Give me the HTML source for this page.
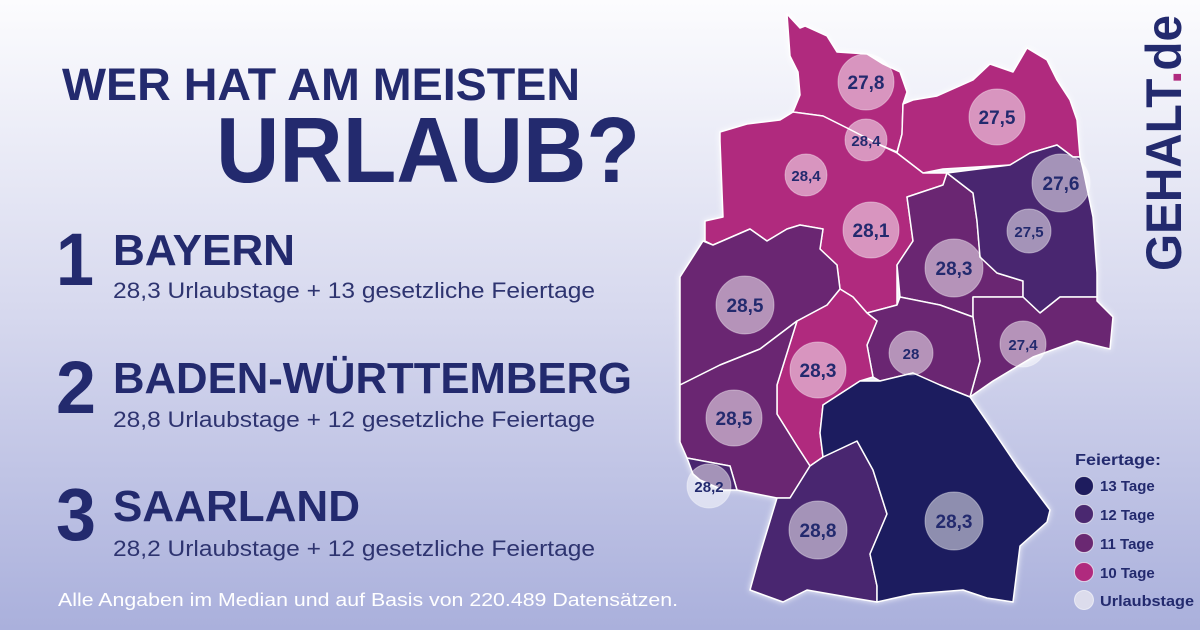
<!DOCTYPE html>
<html><head><meta charset="utf-8"><style>
html,body{margin:0;padding:0;width:1200px;height:630px;overflow:hidden}
svg{display:block}
text{font-family:"Liberation Sans",sans-serif}
</style></head><body>
<svg width="1200" height="630" viewBox="0 0 1200 630" xmlns="http://www.w3.org/2000/svg">
<defs>
<linearGradient id="bg" x1="0" y1="0" x2="0" y2="1">
<stop offset="0" stop-color="#fcfcfe"/><stop offset="0.5" stop-color="#d6d8ee"/><stop offset="1" stop-color="#aab0dc"/>
</linearGradient>
<filter id="sh" x="-10%" y="-10%" width="120%" height="120%"><feDropShadow dx="0" dy="0" stdDeviation="3" flood-color="#ffffff" flood-opacity="0.8"/></filter>
</defs>
<rect width="1200" height="630" fill="url(#bg)"/>

<g fill="#232a6e" font-weight="bold">
<text x="62" y="100" font-size="45" textLength="518" lengthAdjust="spacingAndGlyphs">WER HAT AM MEISTEN</text>
<text x="216" y="182" font-size="93" textLength="424" lengthAdjust="spacingAndGlyphs">URLAUB?</text>
<text x="56" y="285" font-size="74" textLength="38" lengthAdjust="spacingAndGlyphs">1</text>
<text x="113" y="265" font-size="44" textLength="182" lengthAdjust="spacingAndGlyphs">BAYERN</text>
<text x="56" y="413" font-size="74" textLength="40" lengthAdjust="spacingAndGlyphs">2</text>
<text x="113" y="393" font-size="44" textLength="519" lengthAdjust="spacingAndGlyphs">BADEN-WÜRTTEMBERG</text>
<text x="56" y="540" font-size="74" textLength="40" lengthAdjust="spacingAndGlyphs">3</text>
<text x="113" y="521" font-size="44" textLength="247" lengthAdjust="spacingAndGlyphs">SAARLAND</text>
</g>
<g fill="#2e3470" font-size="22">
<text x="113" y="298" textLength="482" lengthAdjust="spacingAndGlyphs">28,3 Urlaubstage + 13 gesetzliche Feiertage</text>
<text x="113" y="427" textLength="482" lengthAdjust="spacingAndGlyphs">28,8 Urlaubstage + 12 gesetzliche Feiertage</text>
<text x="113" y="556" textLength="482" lengthAdjust="spacingAndGlyphs">28,2 Urlaubstage + 12 gesetzliche Feiertage</text>
</g>
<text x="58" y="606" font-size="18" fill="#ffffff" textLength="620" lengthAdjust="spacingAndGlyphs">Alle Angaben im Median und auf Basis von 220.489 Datensätzen.</text>

<g stroke="#ffffff" stroke-width="1.5" stroke-linejoin="round" filter="url(#sh)">
<!-- SH -->
<polygon fill="#b02a7e" points="787,14 800,28 805,26 827,36 837,52 867,54 883,64 900,72 907,92 903,104 902,134 897,152 880,145 847,128 823,116 793,112 800,95 798,72 790,56"/>
<!-- MV -->
<polygon fill="#b02a7e" points="903,104 913,100 937,96 973,80 990,64 1013,72 1027,48 1047,60 1057,80 1070,100 1077,120 1080,157 1073,157 1057,145 1030,153 1010,165 943,169 923,173 897,153 902,134"/>
<!-- NI -->
<polygon fill="#b02a7e" points="720,132 747,124 780,120 793,112 823,116 847,128 880,145 897,153 923,173 947,173 943,185 907,197 913,241 897,265 897,305 867,313 853,297 840,289 837,265 820,249 823,229 800,225 787,229 767,241 750,229 713,245 705,241 705,221 723,217 720,141"/>
<!-- ST -->
<polygon fill="#6a2872" points="907,197 943,185 947,173 973,193 977,221 980,257 997,273 1023,281 1023,297 973,297 973,317 940,305 900,297 897,265 913,241"/>
<!-- BB -->
<polygon fill="#4a2870" points="947,173 1010,165 1030,153 1057,145 1073,157 1080,157 1083,169 1093,217 1097,273 1097,297 1060,297 1040,313 1023,297 1023,281 997,273 980,257 977,221 973,193"/>
<!-- SN -->
<polygon fill="#6a2872" points="1023,297 1040,313 1060,297 1097,297 1097,301 1113,317 1110,349 1077,341 1033,357 993,381 970,397 980,361 973,317 973,297"/>
<!-- TH -->
<polygon fill="#6a2872" points="900,297 940,305 973,317 980,361 970,397 940,385 913,373 880,381 873,377 867,345 877,321 867,313 897,305"/>
<!-- HE -->
<polygon fill="#b02a7e" points="840,289 853,297 867,313 877,321 867,345 873,377 860,381 823,405 820,433 823,457 810,466 797,446 777,414 777,385 797,321 827,305"/>
<!-- NRW -->
<polygon fill="#6a2872" points="703,241 713,245 750,229 767,241 787,229 800,225 823,229 820,249 837,265 840,289 827,305 797,321 760,349 720,365 680,385 680,277"/>
<!-- RP -->
<polygon fill="#6a2872" points="680,385 720,365 760,349 797,321 777,385 777,414 797,446 810,466 790,498 777,498 737,490 730,466 687,458 680,442"/>
<!-- SL -->
<polygon fill="#4a2870" points="687,458 730,466 737,490 723,490 700,480 693,474"/>
<!-- BW -->
<polygon fill="#4a2870" points="790,498 810,466 823,457 857,441 873,470 887,514 870,554 877,586 877,602 853,598 807,590 783,602 750,590 760,554 777,498"/>
<!-- BY -->
<polygon fill="#1e1c5e" points="823,457 820,433 823,405 860,381 880,381 913,373 940,385 970,397 990,426 1017,466 1050,510 1047,522 1020,546 1013,602 987,598 963,590 913,594 877,602 877,586 870,554 887,514 873,470 857,441"/>
</g>

<g fill="#ffffff" fill-opacity="0.5" stroke="#ffffff" stroke-opacity="0.4" stroke-width="1">
<circle cx="866" cy="82" r="28"/>
<circle cx="866" cy="140" r="21"/>
<circle cx="806" cy="175" r="21"/>
<circle cx="871" cy="230" r="28"/>
<circle cx="997" cy="117" r="28"/>
<circle cx="1061" cy="183" r="29"/>
<circle cx="1029" cy="231" r="22"/>
<circle cx="954" cy="268" r="29"/>
<circle cx="745" cy="305" r="29"/>
<circle cx="818" cy="370" r="28"/>
<circle cx="911" cy="353" r="22"/>
<circle cx="1023" cy="344" r="23"/>
<circle cx="734" cy="418" r="28"/>
<circle cx="709" cy="486" r="22"/>
<circle cx="818" cy="530" r="29"/>
<circle cx="954" cy="521" r="29"/>
</g>
<g fill="#232a6e" font-weight="bold" text-anchor="middle">
<text x="866" y="89" font-size="19">27,8</text>
<text x="866" y="146" font-size="15">28,4</text>
<text x="806" y="181" font-size="15">28,4</text>
<text x="871" y="237" font-size="19">28,1</text>
<text x="997" y="124" font-size="19">27,5</text>
<text x="1061" y="190" font-size="19">27,6</text>
<text x="1029" y="237" font-size="15">27,5</text>
<text x="954" y="275" font-size="19">28,3</text>
<text x="745" y="312" font-size="19">28,5</text>
<text x="818" y="377" font-size="19">28,3</text>
<text x="911" y="359" font-size="15">28</text>
<text x="1023" y="350" font-size="15">27,4</text>
<text x="734" y="425" font-size="19">28,5</text>
<text x="709" y="492" font-size="15">28,2</text>
<text x="818" y="537" font-size="19">28,8</text>
<text x="954" y="528" font-size="19">28,3</text>
</g>

<!-- legend -->
<text x="1075" y="465" font-size="16" font-weight="bold" fill="#232a6e" textLength="86" lengthAdjust="spacingAndGlyphs">Feiertage:</text>
<g stroke="#ffffff" stroke-opacity="0.6" stroke-width="1">
<circle cx="1084" cy="486" r="9.5" fill="#1e1c5e"/>
<circle cx="1084" cy="514" r="9.5" fill="#4a2870"/>
<circle cx="1084" cy="543" r="9.5" fill="#6a2872"/>
<circle cx="1084" cy="572" r="9.5" fill="#b02a7e"/>
<circle cx="1084" cy="600" r="9.5" fill="#dcdcec"/>
</g>
<g fill="#232a6e" font-size="15" font-weight="bold">
<text x="1100" y="491">13 Tage</text>
<text x="1100" y="520">12 Tage</text>
<text x="1100" y="549">11 Tage</text>
<text x="1100" y="578">10 Tage</text>
<text x="1100" y="606" textLength="94" lengthAdjust="spacingAndGlyphs">Urlaubstage</text>
</g>

<!-- logo -->
<g transform="translate(1181,271) rotate(-90)">
<text x="0" y="0" font-size="50" font-weight="bold" fill="#232a6e" textLength="256" lengthAdjust="spacingAndGlyphs">GEHALT<tspan fill="#b02a7e">.</tspan>de</text>
</g>
</svg>
</body></html>
